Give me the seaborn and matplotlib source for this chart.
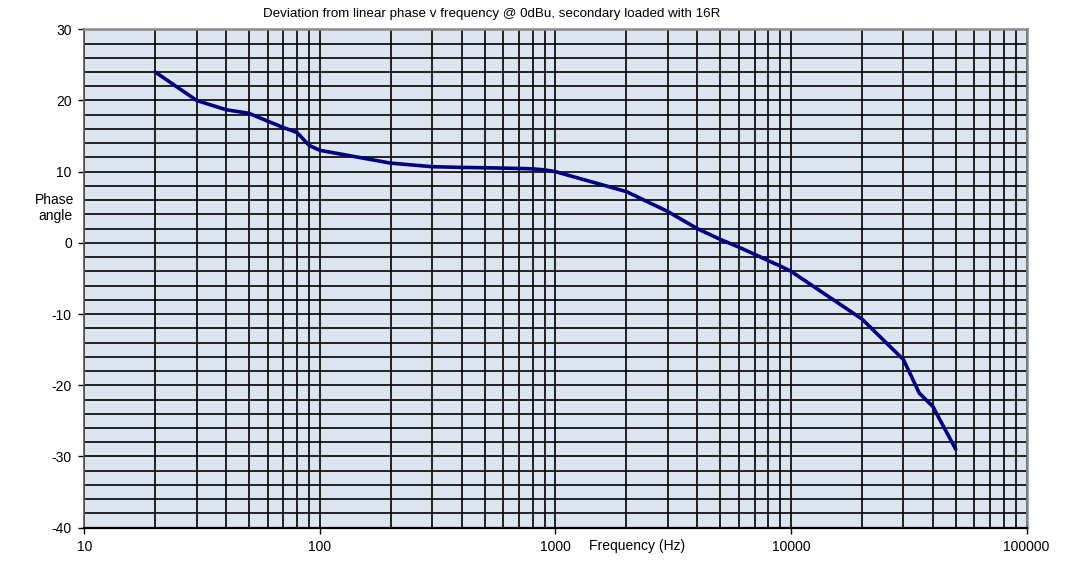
import numpy as np
import pandas as pd
import matplotlib
matplotlib.use('Agg')
import matplotlib.pyplot as plt
from matplotlib.ticker import MultipleLocator, LogLocator, FixedLocator, NullFormatter
import seaborn as sns

# values
freq = [20, 30, 40, 50, 60, 70, 80, 90, 100,
        200, 300, 400, 500, 600, 700, 800, 900, 1000,
        2000, 3000, 4000, 5000, 6000, 7000, 8000, 9000, 10000,
        20000, 30000, 35000, 40000, 50000]
phase = [24.0, 20.0, 18.7, 18.2, 17.1, 16.2, 15.5, 13.7, 13.0,
         11.2, 10.7, 10.6, 10.55, 10.5, 10.45, 10.4, 10.25, 10.0,
         7.2, 4.4, 2.0, 0.5, -0.6, -1.6, -2.5, -3.25, -4.0,
         -10.7, -16.4, -21.1, -23.0, -29.0]
x_ticks = [10, 100, 1000, 10000, 100000]
x_labels = ['10', '100', '1000', '10000', '100000']

title = 'Deviation from linear phase v frequency @ 0dBu, secondary loaded with 16R'

sns.set_style('white')
plt.rcParams['font.family'] = ['Liberation Sans', 'DejaVu Sans']
plt.rcParams['axes.unicode_minus'] = False
plt.rcParams['text.color'] = 'black'
plt.rcParams['xtick.color'] = 'black'
plt.rcParams['ytick.color'] = 'black'
plt.rcParams['xtick.labelcolor'] = 'black'
plt.rcParams['ytick.labelcolor'] = 'black'

df = pd.DataFrame({'freq': freq, 'phase': phase})

fig = plt.figure(figsize=(10.9, 5.72), dpi=100)
ax = fig.add_axes([0.0773, 0.0775, 0.8646, 0.8713])
ax.set_facecolor('#dce4ef')

ax.set_xscale('log')
ax.set_xlim(10, 100000)
ax.set_ylim(-40, 30)

# grid: every 2 units on y, every log subdivision on x
ax.yaxis.set_major_locator(MultipleLocator(10))
ax.yaxis.set_minor_locator(MultipleLocator(2))
ax.xaxis.set_major_locator(FixedLocator(x_ticks))
ax.xaxis.set_minor_locator(LogLocator(base=10, subs=np.arange(2, 10)))
ax.xaxis.set_minor_formatter(NullFormatter())
ax.set_xticklabels(x_labels)
ax.grid(True, which='both', color='black', linewidth=1.2)
ax.set_axisbelow(True)

sns.lineplot(data=df, x='freq', y='phase', color='#000080', linewidth=2.6,
             ax=ax, legend=False)
ax.set_xlabel('')
ax.set_ylabel('')

ax.tick_params(axis='both', which='major', direction='out', length=4, width=1,
               color='black', labelcolor='black', labelsize=10, pad=5,
               bottom=True, left=True)
ax.tick_params(axis='both', which='minor', length=0)

for side in ['top', 'right']:
    ax.spines[side].set_color('#8a8a8a')
    ax.spines[side].set_linewidth(1.8)
ax.spines['left'].set_color('#555555')
ax.spines['left'].set_linewidth(1.2)
ax.spines['bottom'].set_color('black')
ax.spines['bottom'].set_linewidth(1.6)

fig.text(263 / 1090, 1 - 14 / 572, title, fontsize=9.6, ha='left', va='center',
         color='black')
fig.text(55 / 1090, 1 - 208 / 572, 'Phase\nangle', fontsize=10, ha='center',
         va='center', linespacing=1.2, color='black')
fig.text(589 / 1090, 1 - 546 / 572, 'Frequency (Hz)', fontsize=10, ha='left',
         va='center', color='black')

fig.savefig('out.png', dpi=100)
